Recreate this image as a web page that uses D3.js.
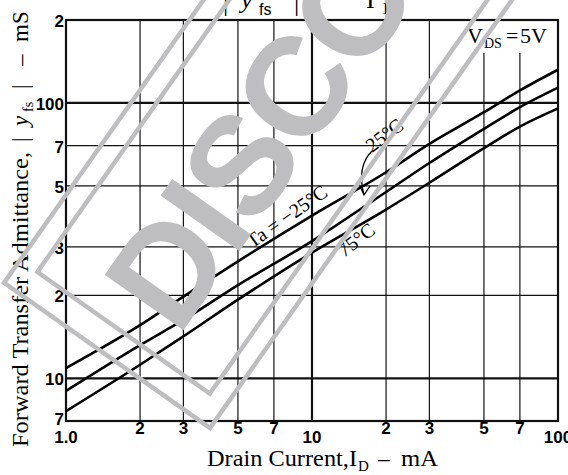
<!DOCTYPE html>
<html>
<head>
<meta charset="utf-8">
<script src="https://cdn.jsdelivr.net/npm/d3@7"></script>
<style>
body { margin: 0; background: #fff; }
svg { display: block; }
</style>
</head>
<body>
<script>
// drain current, mA
var currents = [1, 2, 3, 5, 10, 20, 30, 50, 70, 100];
// forward transfer admittance |yfs|, mS, per ambient temperature
var yfsCold = [10.9, 15.6, 19.8, 26.6, 39.0, 56, 71, 92.5, 111, 132];   // Ta = -25C
var yfsRoom = [9.0, 13.2, 16.3, 21.8, 31.5, 47.5, 60.5, 80.5, 96.5, 113.6]; // 25C
var yfsHot  = [7.6, 11.2, 14.2, 19.3, 28.6, 41, 51.3, 68.5, 82, 95.5];   // 75C

var xGrid = [2, 3, 5, 7, 10, 20, 30, 50, 70];
var yGrid = [10, 20, 30, 50, 70, 100];
var xTicks = [1, 2, 3, 5, 7, 10, 20, 30, 50, 70, 100];
var xTickLabels = ["1.0", "2", "3", "5", "7", "10", "2", "3", "5", "7", "100"];
var yTicks = [7, 10, 20, 30, 50, 70, 100, 200];
var yTickLabels = ["7", "10", "2", "3", "5", "7", "100", "2"];

var W = 568, H = 475;
var serif = "'Liberation Serif', 'DejaVu Serif', serif";
var sans = "'Liberation Sans', Arial, sans-serif";
var grey = "#bebec0";

var svg = d3.select("body").append("svg")
    .attr("width", W)
    .attr("height", H);

// log scales
var x = d3.scaleLog().domain([1, 100]).range([66, 558]);
var y = d3.scaleLog().domain([7, 200]).range([421, 20]);

// grid
svg.append("g").selectAll("line")
    .data(xGrid)
  .enter().append("line")
    .attr("x1", function(d) { return x(d); })
    .attr("x2", function(d) { return x(d); })
    .attr("y1", y(200))
    .attr("y2", y(7))
    .attr("stroke", "#111")
    .attr("stroke-width", function(d) { return d == 10 ? 2.2 : 1.2; });

svg.append("g").selectAll("line")
    .data(yGrid)
  .enter().append("line")
    .attr("y1", function(d) { return y(d); })
    .attr("y2", function(d) { return y(d); })
    .attr("x1", x(1))
    .attr("x2", x(100))
    .attr("stroke", "#111")
    .attr("stroke-width", function(d) { return d == 10 || d == 100 ? 2.2 : 1.2; });

// white box behind the VDS note
svg.append("rect")
    .attr("x", 463).attr("y", y(200) + 1)
    .attr("width", x(100) - 464).attr("height", 32)
    .attr("fill", "#fff");

// frame
svg.append("rect")
    .attr("x", x(1)).attr("y", y(200))
    .attr("width", x(100) - x(1))
    .attr("height", y(7) - y(200))
    .attr("fill", "none")
    .attr("stroke", "#111")
    .attr("stroke-width", 2.2);

// curves
var line = d3.line()
    .x(function(d) { return x(d[0]); })
    .y(function(d) { return y(d[1]); })
    .curve(d3.curveMonotoneX);

[yfsCold, yfsRoom, yfsHot].forEach(function(vals) {
  svg.append("path")
      .datum(d3.zip(currents, vals))
      .attr("fill", "none")
      .attr("stroke", "#000")
      .attr("stroke-width", 2.6)
      .attr("d", line);
});

// tick labels
svg.append("g").selectAll("text")
    .data(yTicks)
  .enter().append("text")
    .attr("x", 64)
    .attr("y", function(d) { return y(d) + (d == 7 ? 3.5 : 7); })
    .attr("text-anchor", "end")
    .attr("font-family", sans)
    .attr("font-weight", "bold")
    .attr("font-size", 17)
    .text(function(d, i) { return yTickLabels[i]; });

svg.append("g").selectAll("text")
    .data(xTicks)
  .enter().append("text")
    .attr("x", function(d) { return x(d); })
    .attr("y", function(d) { return [1, 10, 100].indexOf(d) >= 0 ? 443 : 434; })
    .attr("text-anchor", "middle")
    .attr("font-family", sans)
    .attr("font-weight", "bold")
    .attr("font-size", 17)
    .text(function(d, i) { return xTickLabels[i]; });

// x axis title
var xg = svg.append("g").attr("font-family", serif).attr("font-size", 23);
xg.append("text").attr("x", 207).attr("y", 466)
    .attr("textLength", 150).attr("lengthAdjust", "spacingAndGlyphs")
    .text("Drain Current,I");
xg.append("text").attr("x", 358).attr("y", 471).attr("font-size", 15).text("D");
xg.append("text").attr("x", 378).attr("y", 466).text("\u2013");
xg.append("text").attr("x", 401).attr("y", 466)
    .attr("textLength", 37).attr("lengthAdjust", "spacingAndGlyphs")
    .text("mA");

// y axis title (rotated)
var yt = svg.append("g")
    .attr("transform", "translate(28,0) rotate(-90)")
    .attr("font-family", serif)
    .attr("font-size", 23);
yt.append("text").attr("x", -447).attr("y", 0)
    .attr("textLength", 295).attr("lengthAdjust", "spacingAndGlyphs")
    .text("Forward Transfer Admittance,");
yt.append("text").attr("x", -142).attr("y", 0).text("|");
yt.append("text").attr("x", -126).attr("y", 0).attr("font-style", "italic").text("y");
yt.append("text").attr("x", -112).attr("y", 5).attr("font-size", 14).text("fs");
yt.append("text").attr("x", -89).attr("y", 0).text("|");
yt.append("text").attr("x", -66).attr("y", 0).text("\u2013");
yt.append("text").attr("x", -42).attr("y", 0).text("mS");

// VDS note
var vg = svg.append("g").attr("font-family", serif).attr("font-size", 22);
vg.append("text").attr("x", 467).attr("y", 43).text("V");
vg.append("text").attr("x", 484).attr("y", 48).attr("font-size", 14).text("DS");
vg.append("text").attr("x", 506).attr("y", 43).text("=");
vg.append("text").attr("x", 520).attr("y", 43).text("5V");

// curve annotations
function note(tx, ty, ang, anchor, str) {
  svg.append("text")
      .attr("transform", "translate(" + tx + "," + ty + ") rotate(" + ang + ")")
      .attr("text-anchor", anchor)
      .attr("font-family", serif)
      .attr("font-size", 20)
      .text(str);
}
note(329, 195, -35, "end", "Ta = \u221225\u00b0C");
note(372, 153, -37, "start", "25\u00b0C");
note(344, 258, -38, "start", "75\u00b0C");

// leader arrow for 25C
svg.append("path")
    .attr("d", "M372,151 C362,161 359,176 364,195 M359,184 L364,195 L370,186")
    .attr("fill", "none")
    .attr("stroke", "#000")
    .attr("stroke-width", 1.3);

// clipped figure title at the top
var tt = svg.append("g").attr("font-family", serif).attr("font-size", 26);
tt.append("text").attr("x", 223).attr("y", 11).text("|");
tt.append("text").attr("x", 241).attr("y", 8).attr("font-style", "italic").text("y");
tt.append("text").attr("x", 259).attr("y", 15).attr("font-family", sans).attr("font-size", 16).text("fs");
tt.append("text").attr("x", 294).attr("y", 11).text("|");
tt.append("text").attr("x", 329).attr("y", 5).text("\u2013");
tt.append("text").attr("x", 366).attr("y", 8).text("I");
tt.append("text").attr("x", 383).attr("y", 14).attr("font-size", 17).text("D");

// DISCONTINUED stamp over everything
var stamp = svg.append("g")
    .attr("transform", "translate(210,428) rotate(-54.8)");
stamp.append("rect")
    .attr("x", 0).attr("y", -252)
    .attr("width", 900).attr("height", 252)
    .attr("fill", "none").attr("stroke", grey).attr("stroke-width", 4.5);
stamp.append("rect")
    .attr("x", 28).attr("y", -231)
    .attr("width", 900).attr("height", 211)
    .attr("fill", "none").attr("stroke", grey).attr("stroke-width", 4.5);
stamp.append("text")
    .attr("x", 55).attr("y", -78)
    .attr("font-family", sans)
    .attr("font-weight", "bold")
    .attr("font-size", 140)
    .attr("letter-spacing", -4)
    .attr("fill", grey)
    .text("DISCONTINUED");
</script>
</body>
</html>
